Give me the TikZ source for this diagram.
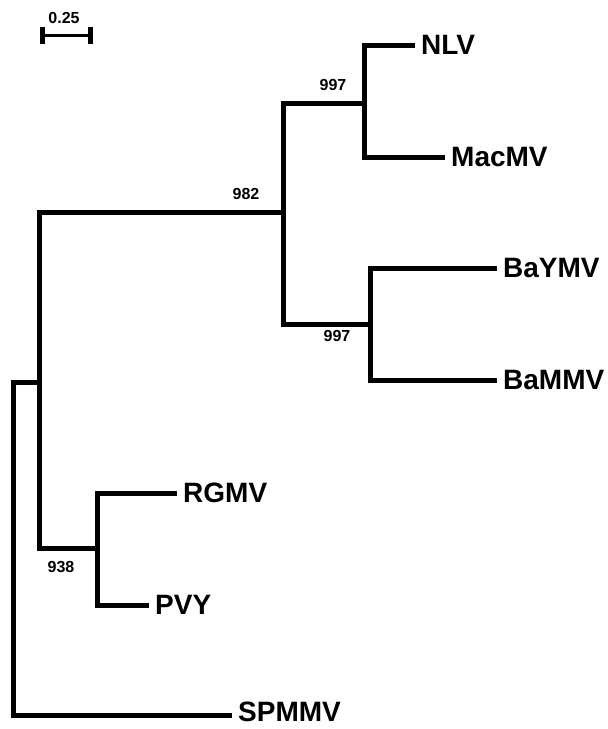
\documentclass[tikz,border=0pt]{standalone}
\usepackage{fontspec}
\setmainfont{Liberation Sans}
\begin{document}
\begin{tikzpicture}[x=1pt,y=-1pt,
  branch/.style={line width=5pt, line join=miter},
  leaf/.style={anchor=west, inner xsep=6pt, inner ysep=0pt, text depth=0pt, font=\bfseries\fontsize{28}{30}\selectfont},
  boot/.style={inner sep=0pt, font=\bfseries\fontsize{16}{18}\selectfont}]
\useasboundingbox (0,0) rectangle (608,729);
% scale bar
\coordinate (s1) at (40,35);
\coordinate (s2) at (93,35);
\draw[line width=3pt] (s1) -- (s2);
\draw[line width=5pt] ([xshift=2.5pt,yshift=-8.5pt]s1) -- ([xshift=2.5pt,yshift=8.5pt]s1);
\draw[line width=5pt] ([xshift=-2.5pt,yshift=-8.5pt]s2) -- ([xshift=-2.5pt,yshift=8.5pt]s2);
\node[boot] (scale) at (64,17.5) {0.25};
% internal nodes
\coordinate (R) at (13,382);
\coordinate (A) at (39,382);
\coordinate (B) at (283,212);
\coordinate (C) at (364,103);
\coordinate (D) at (370,324);
\coordinate (E) at (97,548);
% leaves
\node[leaf] (nlv) at (415,45) {NLV};
\node[leaf] (macmv) at (445,157) {MacMV};
\node[leaf] (baymv) at (497,268) {BaYMV};
\node[leaf] (bammv) at (497,380) {BaMMV};
\node[leaf] (rgmv) at (177,493) {RGMV};
\node[leaf] (pvy) at (149,605) {PVY};
\node[leaf, text depth=6pt] (spmmv) at (232,715) {SPMMV};
% branches
\draw[branch] (spmmv.west) -| (R) -- (A);
\draw[branch] (B) -| (A) |- (E);
\draw[branch] (C) -| (B) |- (D);
\draw[branch] (nlv.west) -| (C) |- (macmv.west);
\draw[branch] (baymv.west) -| (D) |- (bammv.west);
\draw[branch] (rgmv.west) -| (E) |- (pvy.west);
% bootstrap values
\node[boot] (b982) at (246,194) {982};
\node[boot] (b997a) at (333,85) {997};
\node[boot] (b997b) at (337,336) {997};
\node[boot] (b938) at (61,567) {938};
\end{tikzpicture}
\end{document}
